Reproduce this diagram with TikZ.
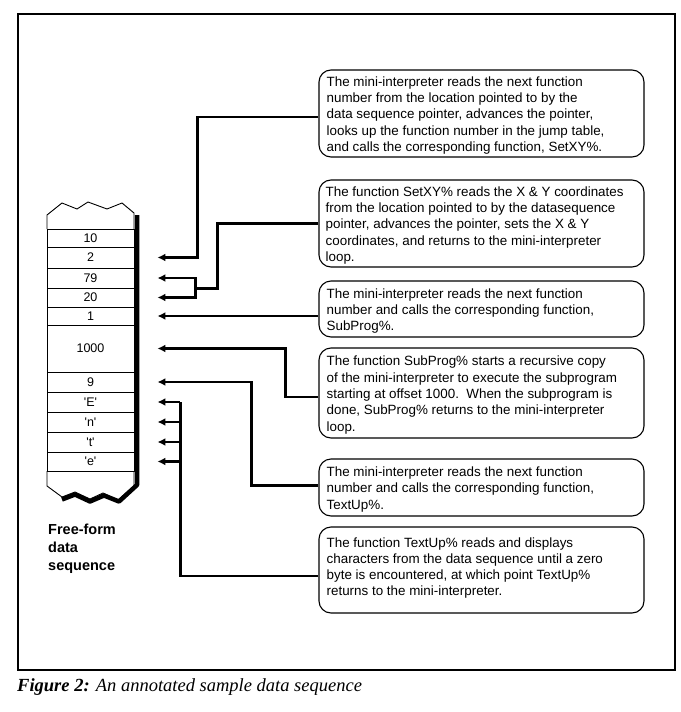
\documentclass[tikz,border=0pt]{standalone}
\usepackage{fontspec}
\setmainfont{Liberation Sans}
\newfontfamily\capfont{Liberation Serif}
\usetikzlibrary{arrows.meta,calc}
\begin{document}
\begin{tikzpicture}[x=1pt,y=-1pt,
  box/.style={draw,line width=1.1pt,rounded corners=12pt,minimum width=325pt,inner sep=0pt},
  txt/.style={align=left,inner sep=0pt,font=\fontsize{13.4}{16.3}\selectfont,anchor=west},
  cell/.style={draw,line width=0.9pt,minimum width=87pt,inner sep=0pt,font=\fontsize{12.5}{14}\selectfont},
  conn/.style={line width=2.2pt},
  arr/.style={conn,-{Latex[length=8pt,width=8pt]}},
  lab/.style={align=left,inner sep=0pt,font=\bfseries\fontsize{14.5}{18}\selectfont,anchor=north west},
]
\useasboundingbox (0,0) rectangle (680,712);
\draw[line width=1.6pt] (18,14) rectangle (675,670);
% data column
\node[cell,minimum height=18pt] (c1) at (90.5,238) {10};
\node[cell,minimum height=21pt] (c2) at (90.5,257.5) {2};
\node[cell,minimum height=20pt] (c3) at (90.5,278) {79};
\node[cell,minimum height=19pt] (c4) at (90.5,297.5) {20};
\node[cell,minimum height=18pt] (c5) at (90.5,316) {1};
\node[cell,minimum height=47pt] (c6) at (90.5,348.5) {1000};
\node[cell,minimum height=20pt] (c7) at (90.5,382) {9};
\node[cell,minimum height=20pt] (c8) at (90.5,402) {\textquotesingle E\textquotesingle};
\node[cell,minimum height=20pt] (c9) at (90.5,422) {\textquotesingle n\textquotesingle};
\node[cell,minimum height=20pt] (c10) at (90.5,442) {\textquotesingle t\textquotesingle};
\node[cell,minimum height=19pt] (c11) at (90.5,461.5) {\textquotesingle e\textquotesingle};
\draw[line width=0.9pt] (47,229) -- (47,215) -- (62,203) -- (77,209) -- (88,202) -- (107,209) -- (122,203) -- (134,213) -- (134,229);
\draw[line width=0.9pt] (47,471) -- (47,486) -- (62,497) -- (75,492) -- (90,499) -- (103,493) -- (118,500) -- (134,486) -- (134,471);
\draw[line width=4.5pt,line join=round] (137,215) -- (137,485) -- (119,501.5) -- (104,495.5) -- (90,501.5) -- (75,494.5) -- (62,499.5);
\node[lab] (lbl) at (48,524) {Free-form\\data\\sequence};
% boxes
\node[box,minimum height=87pt] (b1) at (481.5,113.5) {};
\node[box,minimum height=87pt] (b2) at (481.5,223.5) {};
\node[box,minimum height=56pt] (b3) at (481.5,309) {};
\node[box,minimum height=90pt] (b4) at (481.5,393) {};
\node[box,minimum height=57pt] (b5) at (481.5,487.5) {};
\node[box,minimum height=86pt] (b6) at (481.5,570) {};
\node[txt] (t1) at ($(b1.west)+(8,2)$) {The mini-interpreter reads the next function\\number from the location pointed to by the\\data sequence pointer, advances the pointer,\\looks up the function number in the jump table,\\and calls the corresponding function, SetXY\%.};
\node[txt] (t2) at ($(b2.west)+(7,2)$) {The function SetXY\% reads the X \& Y coordinates\\from the location pointed to by the datasequence\\pointer, advances the pointer, sets the X \& Y\\coordinates, and returns to the mini-interpreter\\loop.};
\node[txt] (t3) at ($(b3.west)+(8,2)$) {The mini-interpreter reads the next function\\number and calls the corresponding function,\\SubProg\%.};
\node[txt] (t4) at ($(b4.west)+(8,2)$) {The function SubProg\% starts a recursive copy\\of the mini-interpreter to execute the subprogram\\starting at offset 1000.\ \ When the subprogram is\\done, SubProg\% returns to the mini-interpreter\\loop.};
\node[txt] (t5) at ($(b5.west)+(8,2)$) {The mini-interpreter reads the next function\\number and calls the corresponding function,\\TextUp\%.};
\node[txt] (t6) at ($(b6.west)+(8,-2)$) {The function TextUp\% reads and displays\\characters from the data sequence until a zero\\byte is encountered, at which point TextUp\%\\returns to the mini-interpreter.};
% connectors
\draw[arr] ($(b1.west)+(0,3.5)$) -| ($(c2.east)+(63,0)$) -- ($(c2.east)+(23,0)$);
\coordinate (j2) at ($(c3.south east)+(61,0)$);
\draw[conn] (b2.west) -| ($(j2)+(22,0)$) -- (j2);
\draw[arr] (j2) |- ($(c3.east)+(23,0)$);
\draw[arr] (j2) |- ($(c4.east)+(23,0)$);
\draw[arr] (b3.west |- c5.east) -- ($(c5.east)+(23,0)$);
\draw[arr] ($(b4.west)+(0,4)$) -| ($(c6.east)+(151,0)$) -- ($(c6.east)+(23,0)$);
\draw[arr] ($(b5.west)+(0,-2)$) -| ($(c7.east)+(117,0)$) -- ($(c7.east)+(23,0)$);
\coordinate (j6) at ($(c8.east)+(46,0)$);
\draw[conn] ($(b6.west)+(0,6)$) -| (j6);
\draw[arr] (j6) -- ($(c8.east)+(23,0)$);
\draw[arr] (j6 |- c9.east) -- ($(c9.east)+(23,0)$);
\draw[arr] (j6 |- c10.east) -- ($(c10.east)+(23,0)$);
\draw[arr] (j6 |- c11.east) -- ($(c11.east)+(23,0)$);
% caption
\node[anchor=base west,inner sep=0pt,font=\capfont\fontsize{18.5}{22}\selectfont] (cap) at (17,691) {\textbf{\textit{Figure 2:}} \textit{An annotated sample data sequence}};
\end{tikzpicture}
\end{document}
